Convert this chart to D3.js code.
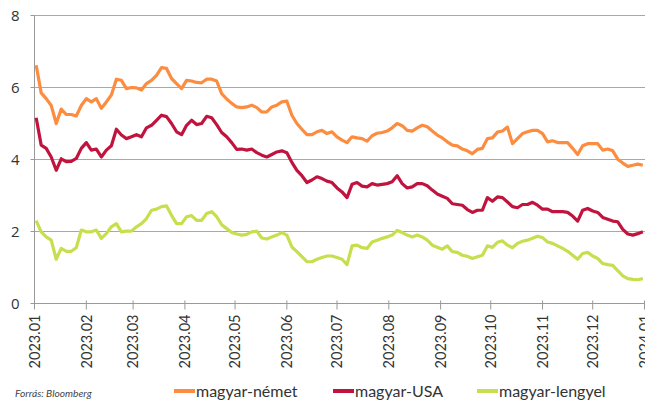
<!DOCTYPE html>
<meta charset="utf-8">
<style>
  body { margin: 0; background: #fff; font-family: Lato, "Open Sans", sans-serif; }
  .grid line { stroke: #a8a8a8; stroke-width: 1; }
  .lbl { fill: #333; }
</style>
<body>
<script src="https://d3js.org/d3.v7.min.js"></script>
<script>

var width = 645,
    height = 405;

var dates = [
  "2023-01-02","2023-01-05","2023-01-08","2023-01-11","2023-01-14","2023-01-17","2023-01-20","2023-01-23","2023-01-26","2023-01-29",
  "2023-02-01","2023-02-04","2023-02-07","2023-02-10","2023-02-13","2023-02-16","2023-02-19","2023-02-22","2023-02-25","2023-02-28",
  "2023-03-03","2023-03-06","2023-03-09","2023-03-12","2023-03-15","2023-03-18","2023-03-21","2023-03-24","2023-03-27","2023-03-30",
  "2023-04-02","2023-04-05","2023-04-08","2023-04-11","2023-04-14","2023-04-17","2023-04-20","2023-04-23","2023-04-26","2023-04-29",
  "2023-05-02","2023-05-05","2023-05-08","2023-05-11","2023-05-14","2023-05-17","2023-05-20","2023-05-23","2023-05-26","2023-05-29",
  "2023-06-01","2023-06-04","2023-06-07","2023-06-10","2023-06-13","2023-06-16","2023-06-19","2023-06-22","2023-06-25","2023-06-28",
  "2023-07-01","2023-07-04","2023-07-07","2023-07-10","2023-07-13","2023-07-16","2023-07-19","2023-07-22","2023-07-25","2023-07-28",
  "2023-07-31","2023-08-03","2023-08-06","2023-08-09","2023-08-12","2023-08-15","2023-08-18","2023-08-21","2023-08-24","2023-08-27",
  "2023-08-30","2023-09-02","2023-09-05","2023-09-08","2023-09-11","2023-09-14","2023-09-17","2023-09-20","2023-09-23","2023-09-26",
  "2023-09-29","2023-10-02","2023-10-05","2023-10-08","2023-10-11","2023-10-14","2023-10-17","2023-10-20","2023-10-23","2023-10-26",
  "2023-10-29","2023-11-01","2023-11-04","2023-11-07","2023-11-10","2023-11-13","2023-11-16","2023-11-19","2023-11-22","2023-11-25",
  "2023-11-28","2023-12-01","2023-12-04","2023-12-07","2023-12-10","2023-12-13","2023-12-16","2023-12-19","2023-12-22","2023-12-25",
  "2023-12-28","2023-12-31"
];

// magyar-német
var nemet = [
  6.62,5.85,5.69,5.50,5.00,5.40,5.25,5.25,5.21,5.50,
  5.69,5.60,5.69,5.42,5.60,5.79,6.23,6.20,5.97,6.00,
  5.99,5.93,6.11,6.20,6.34,6.55,6.53,6.25,6.11,5.97,
  6.20,6.18,6.14,6.13,6.23,6.23,6.18,5.83,5.68,5.56,
  5.46,5.44,5.46,5.51,5.44,5.32,5.32,5.46,5.51,5.60,
  5.62,5.23,5.00,4.84,4.69,4.69,4.77,4.81,4.72,4.77,
  4.63,4.54,4.47,4.63,4.60,4.58,4.51,4.66,4.73,4.75,
  4.79,4.88,5.00,4.94,4.81,4.79,4.88,4.95,4.91,4.79,
  4.68,4.60,4.49,4.40,4.38,4.29,4.24,4.16,4.28,4.31,
  4.58,4.60,4.76,4.79,4.90,4.44,4.58,4.72,4.77,4.81,
  4.81,4.72,4.49,4.52,4.47,4.47,4.47,4.31,4.14,4.38,
  4.44,4.44,4.44,4.26,4.29,4.24,4.01,3.90,3.81,3.84,
  3.87,3.84
];

// magyar-USA
var usa = [
  5.16,4.40,4.31,4.07,3.70,4.02,3.94,3.95,4.03,4.31,
  4.47,4.26,4.29,4.07,4.26,4.38,4.84,4.68,4.58,4.63,
  4.69,4.63,4.88,4.95,5.09,5.23,5.19,5.00,4.77,4.69,
  4.95,5.09,4.97,5.00,5.20,5.16,4.97,4.75,4.63,4.47,
  4.28,4.29,4.26,4.29,4.19,4.12,4.07,4.14,4.21,4.24,
  4.19,3.92,3.70,3.55,3.36,3.43,3.52,3.47,3.40,3.36,
  3.21,3.10,2.94,3.31,3.36,3.26,3.24,3.33,3.29,3.31,
  3.33,3.38,3.55,3.33,3.21,3.24,3.33,3.33,3.27,3.15,
  3.04,2.98,2.92,2.77,2.75,2.73,2.61,2.53,2.59,2.59,
  2.94,2.84,2.96,2.94,2.82,2.69,2.66,2.75,2.75,2.81,
  2.73,2.62,2.62,2.55,2.55,2.55,2.53,2.43,2.29,2.59,
  2.64,2.57,2.53,2.39,2.34,2.29,2.27,2.06,1.93,1.90,
  1.94,1.99
];

// magyar-lengyel
var lengyel = [
  2.30,1.99,1.85,1.76,1.23,1.53,1.45,1.45,1.55,2.04,
  1.99,1.99,2.04,1.81,1.94,2.13,2.22,1.99,2.01,2.01,
  2.13,2.22,2.36,2.59,2.62,2.69,2.71,2.45,2.22,2.22,
  2.41,2.44,2.31,2.31,2.50,2.55,2.41,2.19,2.08,1.97,
  1.93,1.90,1.92,1.99,2.01,1.82,1.79,1.85,1.90,1.97,
  1.90,1.57,1.44,1.30,1.16,1.16,1.23,1.28,1.32,1.32,
  1.28,1.23,1.08,1.60,1.62,1.55,1.53,1.71,1.76,1.81,
  1.85,1.90,2.03,1.97,1.90,1.85,1.90,1.85,1.76,1.62,
  1.56,1.51,1.60,1.44,1.42,1.34,1.31,1.25,1.30,1.34,
  1.60,1.56,1.70,1.74,1.62,1.55,1.67,1.73,1.76,1.81,
  1.87,1.83,1.71,1.67,1.60,1.53,1.45,1.34,1.23,1.39,
  1.42,1.32,1.25,1.11,1.08,1.06,0.91,0.77,0.69,0.67,
  0.66,0.69
];

var seriesNames = ["magyar-német", "magyar-USA", "magyar-lengyel"];
var seriesColors = ["#fc8d40", "#c0143e", "#c6df4e"];
var monthLabels = ["2023.01","2023.02","2023.03","2023.04","2023.05","2023.06","2023.07",
                   "2023.08","2023.09","2023.10","2023.11","2023.12","2024.01"];
var yTicks = [0, 2, 4, 6, 8];
var source = "Forrás: Bloomberg";

var parseDay = d3.timeParse("%Y-%m-%d"),
    parseMonth = d3.timeParse("%Y.%m");

var days = dates.map(parseDay);
var series = [nemet, usa, lengyel].map(function(vals, i) {
  return { name: seriesNames[i], color: seriesColors[i],
           values: vals.map(function(v, j) { return { date: days[j], value: v }; }) };
});

var x = d3.scaleTime()
    .domain([parseMonth("2023.01"), parseMonth("2024.01")])
    .range([34.5, 644.5]);

var y = d3.scaleLinear()
    .domain([0, 8])
    .range([303.5, 15.5]);

var svg = d3.select("body").append("svg")
    .attr("width", width)
    .attr("height", height);

// grid
svg.append("g").attr("class", "grid")
  .selectAll("line")
  .data(yTicks.filter(function(d) { return d > 0; }))
  .enter().append("line")
    .attr("x1", x.range()[0]).attr("x2", width)
    .attr("y1", function(d) { return y(d); })
    .attr("y2", function(d) { return y(d); });

// y axis
var yAxis = svg.append("g").attr("transform", "translate(" + x.range()[0] + ",0)");
yAxis.append("line")
    .attr("y1", y(8)).attr("y2", y(0))
    .attr("stroke", "#999");
yAxis.selectAll(".tk").data(yTicks).enter().append("line")
    .attr("x1", -4).attr("x2", 0)
    .attr("y1", function(d) { return y(d); }).attr("y2", function(d) { return y(d); })
    .attr("stroke", "#999");
yAxis.selectAll("text").data(yTicks).enter().append("text")
    .attr("class", "lbl")
    .attr("x", -15).attr("y", function(d) { return y(d); })
    .attr("dy", "0.36em")
    .attr("text-anchor", "end")
    .style("font-family", "'Open Sans', sans-serif")
    .style("font-size", "15px")
    .text(function(d) { return d; });

// x axis
var months = monthLabels.map(parseMonth);
var xAxis = svg.append("g").attr("transform", "translate(0," + y(0) + ")");
xAxis.append("line")
    .attr("x1", x.range()[0]).attr("x2", width)
    .attr("stroke", "#999");
xAxis.selectAll(".tk").data(months).enter().append("line")
    .attr("x1", function(d) { return x(d); }).attr("x2", function(d) { return x(d); })
    .attr("y1", -3).attr("y2", 6)
    .attr("stroke", "#999");
xAxis.selectAll("text").data(months).enter().append("text")
    .attr("class", "lbl")
    .attr("transform", function(d) { return "translate(" + x(d) + ",11)rotate(-90)"; })
    .attr("dy", "0.36em")
    .attr("text-anchor", "end")
    .style("font-size", "14.5px")
    .text(function(d, i) { return monthLabels[i]; });

// lines
var line = d3.line()
    .x(function(d) { return x(d.date); })
    .y(function(d) { return y(d.value); });

svg.append("g").selectAll("path")
  .data(series)
  .enter().append("path")
    .attr("d", function(d) { return line(d.values); })
    .attr("fill", "none")
    .attr("stroke", function(d) { return d.color; })
    .attr("stroke-width", 3.2)
    .attr("stroke-linejoin", "round");

// source
svg.append("text")
    .attr("x", 15).attr("y", 397)
    .attr("fill", "#444")
    .style("font-style", "italic")
    .style("font-size", "10.2px")
    .text(source);

// legend
var legendX = [174, 333, 477];
var legend = svg.append("g").selectAll("g")
  .data(series)
  .enter().append("g")
    .attr("transform", function(d, i) { return "translate(" + legendX[i] + ",391)"; });
legend.append("line")
    .attr("x1", 0).attr("x2", 21)
    .attr("stroke", function(d) { return d.color; })
    .attr("stroke-width", 4);
legend.append("text")
    .attr("class", "lbl")
    .attr("x", 22).attr("dy", "0.35em")
    .style("font-size", "16px")
    .text(function(d) { return d.name; });

</script>
</body>
</html>
